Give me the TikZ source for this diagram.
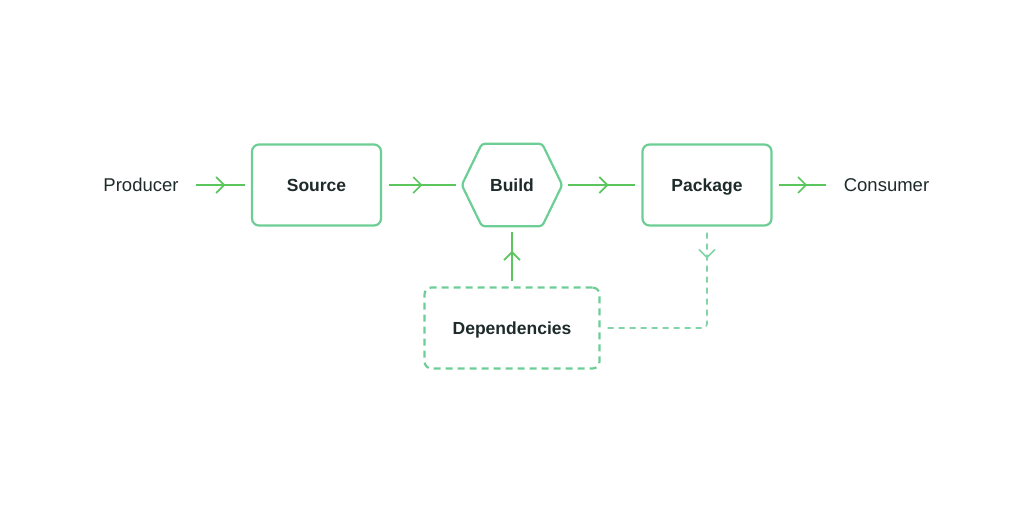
\documentclass[tikz,border=0pt]{standalone}
\usepackage{fontspec}
\setmainfont{Liberation Sans}
\usetikzlibrary{arrows.meta,decorations.markings}
\definecolor{boxgreen}{HTML}{6DCE95}
\definecolor{arrgreen}{HTML}{5CC65E}
\definecolor{dashgreen}{HTML}{82D4A6}
\definecolor{txt}{HTML}{1E2B2A}
\tikzset{
  box/.style={draw=boxgreen, line width=2.2pt, rounded corners=7pt,
    minimum width=129pt, minimum height=81pt,
    text height=12.6pt, text depth=0pt,
    font=\fontsize{17.5}{20}\selectfont\bfseries, text=txt},
  plainlabel/.style={font=\fontsize{18.5}{22}\selectfont, text=txt},
  flow/.style={draw=arrgreen, line width=1.7pt, postaction={decorate},
    decoration={markings, mark=at position #1 with
      {\arrow{Straight Barb[length=8pt,width=16pt,line width=1.7pt]}}}},
  flow/.default=0.6,
  dflow/.style={draw=dashgreen, line width=1.6pt, dash pattern=on 6pt off 5pt,
    rounded corners=4pt, postaction={decorate},
    decoration={markings, mark=at position #1 with
      {\arrow{Straight Barb[length=8pt,width=16pt,line width=1.6pt]}}}},
}
\begin{document}
\begin{tikzpicture}[x=1pt,y=-1pt]
\useasboundingbox[fill=white] (0,0) rectangle (1024,512);

\node[plainlabel] (prod) at (141,185) {Producer};
\node[box] (src) at (316.5,185) {Source};
\node[font=\fontsize{17.5}{20}\selectfont\bfseries, text=txt,
      text height=12.6pt, text depth=0pt,
      minimum width=100pt, minimum height=82pt, inner sep=0pt] (build) at (512,185) {Build};
\draw[boxgreen, line width=2.2pt, rounded corners=3pt]
  (build.west) -- ([xshift=20pt]build.north west) -- ([xshift=-20pt]build.north east)
  -- (build.east) -- ([xshift=-20pt]build.south east) -- ([xshift=20pt]build.south west) -- cycle;
\node[box] (pkg) at (707,185) {Package};
\node[plainlabel] (cons) at (886.5,185) {Consumer};
\node[box, dash pattern=on 7pt off 5pt, minimum width=175pt] (deps) at (512,328) {Dependencies};

\draw[flow] ([xshift=14pt]prod.east) -- ([xshift=-6pt]src.west);
\draw[flow=0.5] ([xshift=7pt]src.east) -- ([xshift=-6pt]build.west);
\draw[flow=0.6] ([xshift=6pt]build.east) -- ([xshift=-6pt]pkg.west);
\draw[flow] ([xshift=6pt]pkg.east) -- ([xshift=-14pt]cons.west);
\draw[flow=0.62] ([yshift=5pt]deps.north) -- ([yshift=-6pt]build.south);
\draw[dflow=26pt] ([yshift=-6pt]pkg.south) |- ([xshift=6pt]deps.east);
\end{tikzpicture}
\end{document}
